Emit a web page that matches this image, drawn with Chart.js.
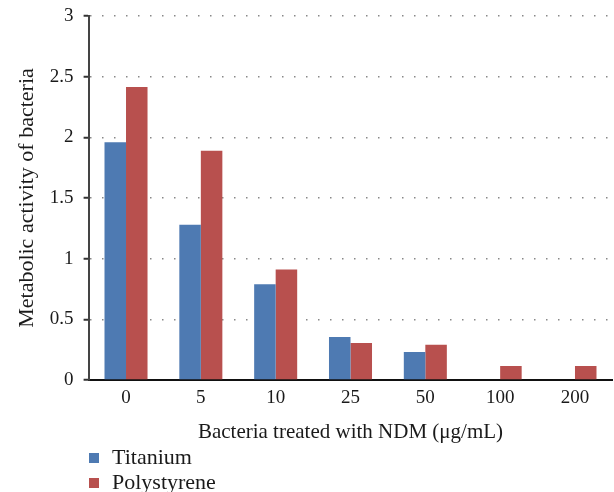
<!DOCTYPE html>
<html>
<head>
<meta charset="utf-8">
<script src="https://cdn.jsdelivr.net/npm/chart.js@4/dist/chart.umd.min.js"></script>
<style>
html,body{margin:0;padding:0;background:#fff;}
#wrap{width:614px;height:492px;}
</style>
</head>
<body>
<div id="wrap"><canvas id="c" width="614" height="492"></canvas></div>
<script>
const categories = ["0", "5", "10", "25", "50", "100", "200"];
const titanium = [1.96, 1.28, 0.79, 0.355, 0.23, 0, 0];
const polystyrene = [2.415, 1.89, 0.91, 0.305, 0.29, 0.115, 0.115];
const yTicks = [0, 0.5, 1, 1.5, 2, 2.5, 3];
const seriesNames = ["Titanium", "Polystyrene"];
const seriesColors = ["#4E7AB2", "#B8504E"];

const FONT = "'Liberation Serif', 'DejaVu Serif', serif";

const legendPlugin = {
  id: 'stackedLegend',
  afterDraw(chart) {
    const ctx = chart.ctx;
    ctx.save();
    ctx.font = "22px " + FONT;
    ctx.textBaseline = 'alphabetic';
    chart.data.datasets.forEach((ds, i) => {
      const y = 458 + i * 25;
      ctx.fillStyle = ds.backgroundColor;
      ctx.fillRect(89, y - 5, 10, 10);
      ctx.fillStyle = '#1a1a1a';
      ctx.fillText(ds.label, 112, y + 6);
    });
    ctx.restore();
  }
};

new Chart(document.getElementById('c'), {
  type: 'bar',
  data: {
    labels: categories,
    datasets: [
      { label: seriesNames[0], data: titanium, backgroundColor: seriesColors[0] },
      { label: seriesNames[1], data: polystyrene, backgroundColor: seriesColors[1] }
    ]
  },
  options: {
    responsive: false,
    animation: false,
    devicePixelRatio: 1,
    layout: { padding: { top: 16, right: 1.6, bottom: 47, left: 0 } },
    datasets: { bar: { categoryPercentage: 0.575, barPercentage: 1.0, borderWidth: 0 } },
    plugins: {
      legend: { display: false },
      tooltip: { enabled: false }
    },
    scales: {
      x: {
        grid: { display: false, drawTicks: false },
        border: { display: true, color: '#111', width: 2 },
        ticks: { color: '#1a1a1a', font: { family: FONT, size: 19 }, padding: 7 },
        title: {
          display: true,
          text: 'Bacteria treated with NDM (\u03bcg/mL)',
          color: '#1a1a1a',
          font: { family: FONT, size: 21 },
          padding: { top: 4, bottom: 0 }
        },
        afterFit(scale) { scale.height = 65; }
      },
      y: {
        min: 0, max: 3,
        afterBuildTicks(scale) { scale.ticks = yTicks.map(v => ({ value: v })); },
        grid: {
          color: '#888', lineWidth: 1.5,
          tickColor: '#333', tickLength: 5, tickWidth: 2, tickBorderDash: []
        },
        border: { display: true, color: '#444', width: 2, dash: [1.5, 10.5], dashOffset: 0 },
        ticks: {
          color: '#1a1a1a', font: { family: FONT, size: 19 }, padding: 10,
          callback: (v) => String(v)
        },
        title: {
          display: true,
          text: 'Metabolic activity of bacteria',
          color: '#1a1a1a',
          font: { family: FONT, size: 22 },
          padding: { top: 14, bottom: 0 }
        },
        afterFit(scale) { scale.width = 88.6; scale.paddingTop = 0; scale.paddingBottom = 0; }
      }
    }
  },
  plugins: [legendPlugin]
});
</script>
</body>
</html>
